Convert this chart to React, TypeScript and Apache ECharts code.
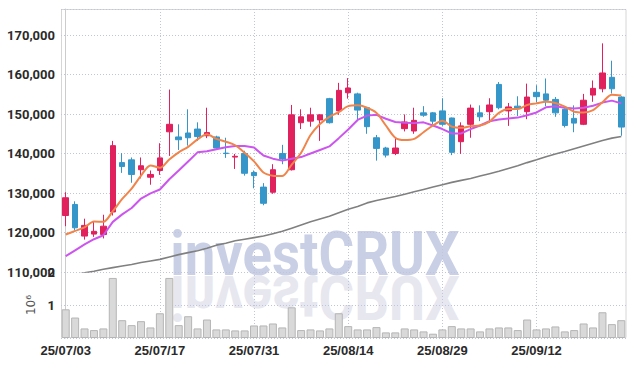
import React, { useEffect, useRef } from 'react';
import * as echarts from 'echarts';

const dates = [
  '25/07/03', '25/07/04', '25/07/07', '25/07/08', '25/07/09', '25/07/10', '25/07/11', '25/07/14', '25/07/15', '25/07/16',
  '25/07/17', '25/07/18', '25/07/21', '25/07/22', '25/07/23', '25/07/24', '25/07/25', '25/07/28', '25/07/29', '25/07/30',
  '25/07/31', '25/08/01', '25/08/04', '25/08/05', '25/08/06', '25/08/07', '25/08/08', '25/08/11', '25/08/12', '25/08/13',
  '25/08/14', '25/08/18', '25/08/19', '25/08/20', '25/08/21', '25/08/22', '25/08/25', '25/08/26', '25/08/27', '25/08/28',
  '25/08/29', '25/09/01', '25/09/02', '25/09/03', '25/09/04', '25/09/05', '25/09/08', '25/09/09', '25/09/10', '25/09/11',
  '25/09/12', '25/09/15', '25/09/16', '25/09/17', '25/09/18', '25/09/19', '25/09/22', '25/09/23', '25/09/24', '25/09/25',
];

const opens = [
  124300, 127100, 119100, 119600, 119500, 125200, 137700, 138400, 135900, 134000,
  135700, 145500, 144200, 145200, 146200, 144500, 144200, 140100, 139100, 140000,
  135200, 131500, 130200, 140000, 135900, 147800, 148200, 148500, 153900, 150800,
  155400, 155100, 151600, 144000, 141400, 140000, 146300, 145700, 150300, 150300,
  150800, 149000, 143000, 147400, 150300, 150600, 157500, 150800, 152000, 150600,
  155500, 155100, 153700, 151200, 148900, 147400, 154800, 156400, 159300, 154300,
];
const closes = [
  128800, 121200, 121800, 120300, 121600, 142000, 136700, 134700, 136900, 134700,
  138900, 147400, 143500, 144000, 144300, 145300, 141400, 140000, 139300, 135000,
  134400, 127400, 135900, 138600, 149800, 149300, 149800, 149800, 147800, 156000,
  156600, 151000, 146800, 141300, 139600, 141400, 148000, 148400, 149700, 148200,
  147400, 140300, 147000, 151500, 149300, 152300, 151600, 151800, 151400, 154300,
  154400, 153500, 150300, 147100, 147700, 153500, 156500, 160400, 156400, 146700,
];
const lows = [
  121600, 120600, 118200, 118900, 118500, 124300, 135100, 132600, 133700, 132100,
  134600, 139400, 140900, 142000, 143200, 143900, 140900, 138900, 136100, 134400,
  131200, 126900, 129800, 137300, 135700, 146200, 146800, 143200, 147600, 149800,
  153900, 148200, 145000, 138200, 139000, 139600, 145600, 145000, 149300, 147400,
  147000, 139600, 139900, 144000, 148200, 147800, 151200, 147000, 149500, 148700,
  153000, 152000, 149300, 146600, 145400, 147200, 153100, 155500, 155200, 144500,
];
const highs = [
  130200, 127900, 123500, 122700, 124500, 143200, 140100, 139000, 139000, 135700,
  142600, 156200, 147400, 151200, 147900, 151600, 144500, 144000, 139900, 140700,
  135700, 132500, 137300, 142200, 152300, 151200, 151600, 149900, 154100, 157900,
  159100, 155400, 151800, 144700, 141700, 144000, 149900, 151600, 152000, 150500,
  154000, 149100, 147900, 152400, 152200, 154000, 158100, 152800, 154500, 157700,
  157300, 159000, 154300, 151400, 152200, 155100, 158500, 167900, 163500, 154500,
];

const ma5 = [
  119500, 120400, 121300, 122800, 122700, 125400, 128500, 131100, 134400, 137000,
  136400, 138500, 140300, 141700, 143600, 144900, 143700, 143000, 142100, 140200,
  138000, 135200, 134400, 134300, 137200, 140200, 144700, 147500, 149300, 150500,
  152000, 152200, 151600, 150300, 147100, 144000, 143400, 143700, 145400, 147100,
  148300, 146800, 146500, 146900, 147100, 148100, 150300, 151300, 151300, 152300,
  152700, 153100, 152800, 151900, 150600, 150400, 151000, 153000, 154900, 154700,
];
const ma10 = [
  114000, 115500, 117000, 118300, 119300, 122700, 124600, 126200, 128600, 129900,
  130900, 133500, 135700, 138000, 140300, 140600, 141100, 141600, 141900, 141900,
  141500, 139500, 138700, 138200, 138700, 139100, 140000, 140900, 141800, 143900,
  146100, 148500, 149600, 149800, 148800, 148000, 147800, 147700, 147900, 147100,
  146200, 145100, 145100, 146200, 147100, 148200, 148600, 148900, 149100, 149700,
  150400, 151700, 152000, 151600, 151400, 151600, 152100, 152900, 153400, 152700,
];
const ma60 = [
  108800, 109300, 109800, 110200, 110700, 111100, 111500, 111900, 112400, 112800,
  113200, 113800, 114400, 114900, 115400, 116000, 116800, 117300, 117900, 118300,
  118700, 119100, 119700, 120300, 121100, 121900, 122700, 123400, 124100, 125000,
  125900, 126600, 127500, 128100, 128600, 129100, 129700, 130300, 130900, 131500,
  132100, 132700, 133200, 133700, 134300, 134900, 135500, 136200, 136900, 137700,
  138400, 139200, 139900, 140500, 141200, 141900, 142600, 143300, 143900, 144300,
];
const volumes = [
  870000, 620000, 290000, 240000, 290000, 1820000, 540000, 390000, 510000, 320000,
  750000, 1820000, 390000, 660000, 290000, 560000, 260000, 260000, 230000, 230000,
  380000, 380000, 440000, 320000, 930000, 240000, 260000, 230000, 290000, 750000,
  360000, 260000, 260000, 330000, 170000, 170000, 290000, 260000, 200000, 130000,
  260000, 360000, 290000, 290000, 200000, 290000, 320000, 320000, 240000, 560000,
  260000, 290000, 350000, 200000, 240000, 440000, 320000, 780000, 420000, 540000,
];
const labelTicks = [0, 10, 20, 30, 40, 50];

const UP = '#e1205e';
const DOWN = '#3596c9';
const GRID_LINE = { type: [1, 2] as any, color: '#c2c4da', width: 1 };
const LABEL_FONT = 'Roboto';

export default function App() {
  const ref = useRef<HTMLDivElement>(null);
  useEffect(() => {
    const chart = echarts.init(ref.current!, null, { renderer: 'svg' });
    const candle = dates.map((_, i) => [i, opens[i], closes[i], lows[i], highs[i]]);
    const line = (arr: number[]) => arr.map((v, i) => [i, v]);
    const vol = volumes.map((v, i) => [i, v]);

    const xBase = {
      type: 'value',
      min: -0.5,
      max: 59.5,
      axisLine: { show: false },
      axisTick: { show: false, customValues: labelTicks },
      splitLine: { show: true, lineStyle: GRID_LINE },
    };
    const wmStyle = {
      text: 'investCRUX',
      fontFamily: 'Roboto',
      fontWeight: 'bold',
      fontSize: 62,
      align: 'center',
      verticalAlign: 'middle',
    };

    chart.setOption({
      animation: false,
      backgroundColor: '#ffffff',
      grid: [
        { left: 61, right: 8, top: 9, height: 263 },
        { left: 61, right: 8, top: 272, height: 66 },
      ],
      graphic: [
        {
          type: 'rect',
          z: -20,
          silent: true,
          shape: { x: 61.5, y: 9.5, width: 564.5, height: 328 },
          style: { fill: 'none', stroke: '#d6d6d6', lineWidth: 1 },
        },
        {
          type: 'text',
          x: 315,
          y: 254,
          scaleX: 0.88,
          z: -10,
          silent: true,
          style: { ...wmStyle, fill: '#c9d0e6' },
        },
        {
          type: 'text',
          x: 315,
          y: 297,
          scaleX: 0.88,
          scaleY: -1,
          z: -10,
          silent: true,
          style: { ...wmStyle, fill: '#e7e7ef' },
        },
      ],
      xAxis: [
        { ...xBase, gridIndex: 0, axisLabel: { show: false, customValues: labelTicks } },
        {
          ...xBase,
          gridIndex: 1,
          axisLabel: {
            show: true,
            customValues: labelTicks,
            formatter: (v: number) => dates[Math.round(v)] ?? '',
            fontFamily: '"Liberation Sans"',
            fontWeight: 'bold',
            fontSize: 13,
            color: '#2a2a2a',
            margin: 6,
          },
        },
      ],
      yAxis: [
        {
          type: 'value',
          gridIndex: 0,
          min: 110000,
          max: 176600,
          interval: 10000,
          axisLine: { show: true, lineStyle: { color: '#cccccc' } },
          axisTick: { show: false },
          axisLabel: {
            showMaxLabel: false,
            formatter: (v: number) => v.toLocaleString('en-US'),
            fontFamily: LABEL_FONT,
            fontWeight: 'bold',
            fontSize: 13,
            color: '#2a2a2a',
            margin: 6,
          },
          splitLine: { show: true, lineStyle: GRID_LINE },
        },
        {
          type: 'value',
          gridIndex: 1,
          min: 0,
          max: 2000000,
          interval: 1000000,
          axisLine: { show: true, lineStyle: { color: '#cccccc' } },
          axisTick: { show: false },
          axisLabel: {
            showMinLabel: false,
            formatter: (v: number) => String(v / 1000000),
            fontFamily: LABEL_FONT,
            fontWeight: 'bold',
            fontSize: 13,
            color: '#2a2a2a',
            margin: 6,
          },
          splitLine: { show: true, lineStyle: GRID_LINE },
          name: '10⁶',
          nameLocation: 'middle',
          nameRotate: 90,
          nameGap: 24,
          nameTextStyle: { fontFamily: '"DejaVu Sans"', fontSize: 12, color: '#555555' },
        },
      ],
      series: [
        {
          type: 'candlestick',
          xAxisIndex: 0,
          yAxisIndex: 0,
          data: candle,
          barWidth: 6,
          itemStyle: { color: UP, color0: DOWN, borderColor: UP, borderColor0: DOWN, borderWidth: 1 },
        },
        {
          type: 'line', xAxisIndex: 0, yAxisIndex: 0, data: line(ma60), showSymbol: false,
          lineStyle: { color: '#808080', width: 1.6 }, z: 3,
        },
        {
          type: 'line', xAxisIndex: 0, yAxisIndex: 0, data: line(ma10), showSymbol: false,
          lineStyle: { color: '#cc55ee', width: 2 }, z: 3,
        },
        {
          type: 'line', xAxisIndex: 0, yAxisIndex: 0, data: line(ma5), showSymbol: false, smooth: 0.3,
          lineStyle: { color: '#f0844a', width: 2 }, z: 3,
        },
        {
          type: 'bar',
          xAxisIndex: 1,
          yAxisIndex: 1,
          data: vol,
          barWidth: 8,
          itemStyle: { color: '#d9d9d9', borderColor: '#b5b5b5', borderWidth: 1 },
        },
      ],
    } as any);
    return () => chart.dispose();
  }, []);
  return <div ref={ref} style={{ position: 'fixed', left: 0, top: 0, width: 634, height: 366 }} />;
}
